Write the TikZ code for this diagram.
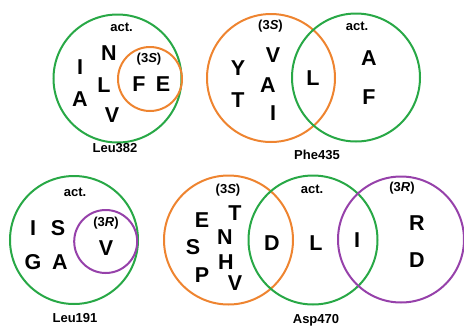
\documentclass[tikz,border=0pt]{standalone}
\usepackage{fontspec}
\setmainfont{Liberation Sans}
\definecolor{vgreen}{RGB}{40,168,70}
\definecolor{vorange}{RGB}{238,132,48}
\definecolor{vpurple}{RGB}{150,65,170}
\begin{document}
\begin{tikzpicture}[x=1pt,y=-1pt,
  res/.style={font=\fontsize{21.5}{21.5}\selectfont\bfseries, inner sep=0pt},
  lab/.style={font=\fontsize{13}{13}\selectfont\bfseries, inner sep=0pt},
  gset/.style={draw=vgreen, line width=2pt},
  oset/.style={draw=vorange, line width=2pt},
  pset/.style={draw=vpurple, line width=2pt}]
\useasboundingbox (0,0) rectangle (464,325);
% Leu382
\node[gset, circle, minimum size=128pt] (g1) at (117.5,78.5) {};
\node[oset, circle, minimum size=64pt] (o1) at (150,79) {};
\node[lab] (g1a) at (121.5,27.5) {act.};
\node[lab] (o1a) at (149,59) {(3\textit{S})};
\node[res] (n1) at (109,53) {N};
\node[res] (n2) at (80,67) {I};
\node[res] (n3) at (104,85) {L};
\node[res] (n4) at (80,99) {A};
\node[res] (n5) at (112,115) {V};
\node[res] (n6) at (139,84) {F};
\node[res] (n7) at (163,84) {E};
\node[lab] (t1) at (115,148.5) {Leu382};
% Phe435
\node[oset, circle, minimum size=128pt] (o2) at (271,78) {};
\node[gset, circle, minimum size=128pt] (g2) at (356,77.5) {};
\node[lab] (o2a) at (270.5,26.5) {(3\textit{S})};
\node[lab] (g2a) at (357,26) {act.};
\node[res] (p1) at (238,68) {Y};
\node[res] (p2) at (238,100) {T};
\node[res] (p3) at (273,55) {V};
\node[res] (p4) at (268,85) {A};
\node[res] (p5) at (273,113) {I};
\node[res] (p6) at (313,78) {L};
\node[res] (p7) at (369,58) {A};
\node[res] (p8) at (369,97) {F};
\node[lab] (t2) at (317,155) {Phe435};
% Leu191
\node[gset, circle, minimum size=128pt] (g3) at (74,240) {};
\node[pset, circle, minimum size=63pt] (p3c) at (105.7,241.5) {};
\node[lab] (g3a) at (75,192) {act.};
\node[lab] (p3a) at (106,223) {(3\textit{R})};
\node[res] (q1) at (33,228) {I};
\node[res] (q2) at (58,228) {S};
\node[res] (q3) at (33,262) {G};
\node[res] (q4) at (60,262) {A};
\node[res] (q5) at (106,248) {V};
\node[lab] (t3) at (75,318) {Leu191};
% Asp470
\node[oset, circle, minimum size=129pt] (o4) at (228.5,240) {};
\node[gset, circle, minimum size=129pt] (g4) at (313,240) {};
\node[pset, circle, minimum size=126pt] (p4c) at (401,239.5) {};
\node[lab] (o4a) at (228,190) {(3\textit{S})};
\node[lab] (g4a) at (312,189) {act.};
\node[lab] (p4a) at (402,188) {(3\textit{R})};
\node[res] (r1) at (202,220) {E};
\node[res] (r2) at (235,213) {T};
\node[res] (r3) at (225,237) {N};
\node[res] (r4) at (193,247) {S};
\node[res] (r5) at (226,262) {H};
\node[res] (r6) at (202,275) {P};
\node[res] (r7) at (235,283) {V};
\node[res] (r8) at (272,243) {D};
\node[res] (r9) at (316,243) {L};
\node[res] (r10) at (357,240) {I};
\node[res] (r11) at (417,223) {R};
\node[res] (r12) at (417,260) {D};
\node[lab] (t4) at (316,320) {Asp470};
\end{tikzpicture}
\end{document}
